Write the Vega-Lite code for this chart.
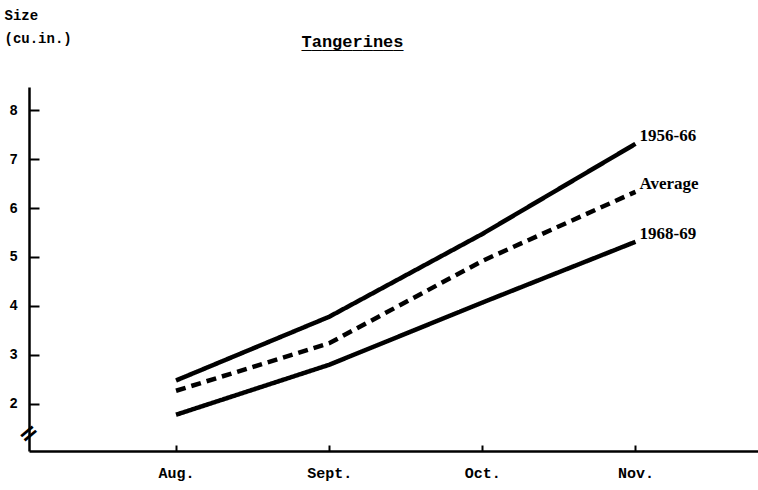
{
  "$schema": "https://vega.github.io/schema/vega-lite/v6.json",
  "width": 729,
  "height": 364,
  "autosize": {"type": "none"},
  "padding": {"left": 29, "top": 87, "right": 0, "bottom": 39},
  "background": "white",
  "config": {"view": {"stroke": null}},
  "title": {
    "text": "Tangerines",
    "subtitle": "__________",
    "font": "Liberation Mono",
    "fontWeight": "bold",
    "fontSize": 17,
    "subtitleFont": "Liberation Mono",
    "subtitleFontWeight": "bold",
    "subtitleFontSize": 17,
    "subtitleColor": "black",
    "subtitlePadding": -15,
    "color": "black",
    "anchor": "middle",
    "dx": -41,
    "offset": -45
  },
  "data": {
    "values": [
      {"month": "Aug.", "m": 1, "series": "1956-66", "size": 2.48},
      {"month": "Sept.", "m": 2, "series": "1956-66", "size": 3.78},
      {"month": "Oct.", "m": 3, "series": "1956-66", "size": 5.47},
      {"month": "Nov.", "m": 4, "series": "1956-66", "size": 7.31},
      {"month": "Aug.", "m": 1, "series": "Average", "size": 2.27},
      {"month": "Sept.", "m": 2, "series": "Average", "size": 3.24},
      {"month": "Oct.", "m": 3, "series": "Average", "size": 4.92},
      {"month": "Nov.", "m": 4, "series": "Average", "size": 6.33},
      {"month": "Aug.", "m": 1, "series": "1968-69", "size": 1.78},
      {"month": "Sept.", "m": 2, "series": "1968-69", "size": 2.8},
      {"month": "Oct.", "m": 3, "series": "1968-69", "size": 4.07},
      {"month": "Nov.", "m": 4, "series": "1968-69", "size": 5.31}
    ]
  },
  "encoding": {
    "x": {
      "field": "m",
      "type": "quantitative",
      "scale": {"domain": [0.04, 4.8], "nice": false, "zero": false},
      "axis": {
        "values": [1, 2, 3, 4],
        "labelExpr": "['', 'Aug.', 'Sept.', 'Oct.', 'Nov.'][datum.value]",
        "title": null,
        "grid": false,
        "domainColor": "black",
        "domainWidth": 2.5,
        "tickColor": "black",
        "tickWidth": 2,
        "tickSize": -6,
        "labelPadding": 20,
        "labelFont": "Liberation Mono",
        "labelFontWeight": "bold",
        "labelFontSize": 15,
        "labelColor": "black"
      }
    },
    "y": {
      "field": "size",
      "type": "quantitative",
      "scale": {"domain": [1.04, 8.47], "nice": false, "zero": false},
      "axis": {
        "values": [2, 3, 4, 5, 6, 7, 8],
        "title": ["Size", "(cu.in.)"],
        "titleAngle": 0,
        "titleAlign": "left",
        "titleBaseline": "top",
        "titleX": -25,
        "titleY": -79,
        "titleLineHeight": 23,
        "titleFont": "Liberation Mono",
        "titleFontWeight": "bold",
        "titleFontSize": 14,
        "titleColor": "black",
        "grid": false,
        "domainColor": "black",
        "domainWidth": 2.5,
        "tickColor": "black",
        "tickWidth": 2,
        "tickSize": -10,
        "labelPadding": 22,
        "labelFont": "Liberation Sans",
        "labelFontWeight": "bold",
        "labelFontSize": 14,
        "labelColor": "black"
      }
    }
  },
  "layer": [
    {
      "mark": {"type": "line", "color": "black", "strokeWidth": 4.5, "strokeCap": "butt"},
      "encoding": {
        "detail": {"field": "series"},
        "strokeDash": {
          "field": "series",
          "type": "nominal",
          "scale": {"domain": ["1956-66", "Average", "1968-69"], "range": [[1, 0], [10, 6], [1, 0]]},
          "legend": null
        }
      }
    },
    {
      "transform": [{"filter": "datum.m == 4"}],
      "mark": {
        "type": "text",
        "align": "left",
        "baseline": "middle",
        "dx": 4,
        "dy": -8,
        "font": "Liberation Serif",
        "fontWeight": "bold",
        "fontSize": 17,
        "color": "black"
      },
      "encoding": {"text": {"field": "series"}}
    },
    {
      "data": {"values": [{"m": 0.04, "size": 1.39, "t": "="}]},
      "mark": {
        "type": "text",
        "align": "center",
        "baseline": "middle",
        "angle": -40,
        "fontSize": 24,
        "font": "DejaVu Sans",
        "fontWeight": "bold",
        "color": "black"
      },
      "encoding": {"text": {"field": "t"}}
    }
  ]
}
